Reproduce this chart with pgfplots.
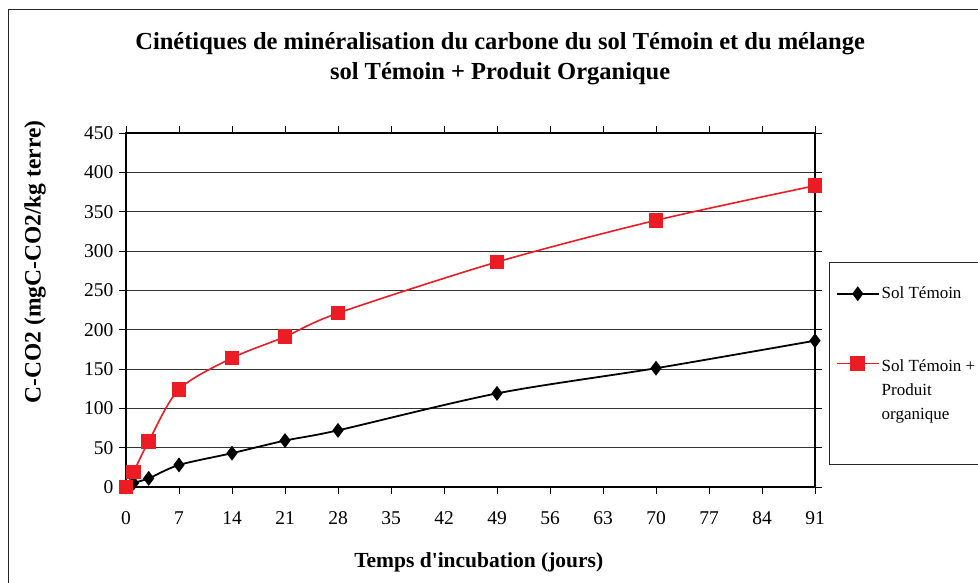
\documentclass[border=0pt]{standalone}
\usepackage{fontspec}
\setmainfont{Liberation Serif}
\usepackage{pgfplots}
\pgfplotsset{compat=1.18}
\definecolor{myred}{RGB}{236,28,36}
\begin{document}
\begin{tikzpicture}[x=1pt,y=1pt]
\useasboundingbox (0,0) rectangle (978,583);
\draw[line width=1pt, black!85] (8,-10) -- (8,573) -- (990,573);
\draw[line width=1pt, black!85] (829,118) rectangle (990,320);
\begin{axis}[
  at={(126pt,96pt)}, anchor=south west,
  scale only axis, width=689pt, height=354pt,
  xmin=0, xmax=91, ymin=0, ymax=450,
  xtick={0,7,...,91}, ytick={0,50,...,450},
  tick align=outside, major tick length=7pt,
  tick style={black, line width=0.8pt},
  ymajorgrids, major grid style={black!80, line width=0.8pt},
  axis line style={black, line width=1.2pt},
  clip=false,
  /pgf/number format/assume math mode=true,
  ticklabel style={font=\fontsize{19.5}{22}\selectfont},
  yticklabel style={xshift=-2pt},
  xticklabel style={yshift=-14pt},
  title={Cinétiques de minéralisation du carbone du sol Témoin et du mélange\\sol Témoin + Produit Organique},
  title style={at={(axis description cs:0.543,1.192)}, anchor=center, align=center, font=\bfseries\fontsize{24.5}{30}\selectfont},
  xlabel={Temps d\textquotesingle incubation (jours)},
  xlabel style={at={(axis description cs:0.512,-0.214)}, anchor=center, font=\bfseries\fontsize{21.5}{24}\selectfont},
  ylabel={C-CO2 (mgC-CO2/kg terre)},
  ylabel style={at={(axis description cs:-0.132,0.636)}, anchor=center, rotate=0, font=\bfseries\fontsize{23.5}{26}\selectfont},
  legend style={at={(axis description cs:1.030,0.571)}, anchor=north west, draw=none, fill=none,
    font=\fontsize{17}{24}\selectfont, row sep=50pt, inner sep=0pt},
  legend cell align=left,
  legend image code/.code={\draw[mark repeat=2,mark phase=2,#1] plot coordinates {(0pt,0pt) (21pt,0pt) (42pt,0pt)};},
]
\addplot[black, line width=1.8pt, smooth, mark=diamond*, mark size=6pt, mark options={solid, fill=black}]
 coordinates {(0,0) (1,5) (3,11) (7,28) (14,43) (21,59) (28,72) (49,119) (70,151) (91,186)};
\addlegendentry{Sol Témoin}
\addplot[myred, line width=1.6pt, smooth, mark=square*, mark size=6.5pt, mark options={solid, fill=myred}]
 coordinates {(0,0) (1,19) (3,58) (7,124) (14,164) (21,191) (28,221) (49,286) (70,339) (91,383)};
\addlegendentry{\begin{tabular}[t]{@{}l@{}}Sol Témoin +\\Produit\\organique\end{tabular}}
\end{axis}
\end{tikzpicture}
\end{document}
